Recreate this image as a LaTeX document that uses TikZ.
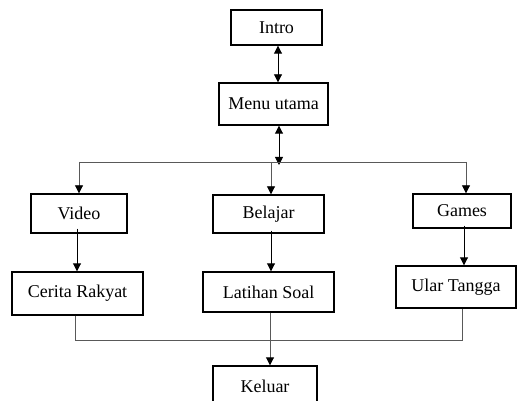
\documentclass[tikz,border=0pt]{standalone}
\usepackage{fontspec}
\setmainfont{Liberation Serif}
\usetikzlibrary{arrows.meta}
\begin{document}
\begin{tikzpicture}[x=1pt,y=-1pt,
  box/.style={draw=black,line width=1.4pt,inner sep=0pt,font=\fontsize{18}{20}\selectfont},
  tip/.style={-{Triangle[width=8pt,length=8pt,fill=black,color=black]}},
  dtip/.style={{Triangle[width=8pt,length=8pt,fill=black,color=black]}-{Triangle[width=8pt,length=8pt,fill=black,color=black]}},
  conn/.style={line width=0.9pt,draw=black!65},
  blk/.style={line width=0.9pt,draw=black}]
\clip (0,0) rectangle (517,401);
\fill[white] (0,0) rectangle (517,401);
\node[box,minimum width=91pt,minimum height=35pt] (intro) at (276.5,27.5) {Intro};
\node[box,minimum width=109pt,minimum height=42pt] (menu) at (273.5,104) {Menu utama};
\node[box,minimum width=96pt,minimum height=39pt] (video) at (79,213.5) {Video};
\node[box,minimum width=111pt,minimum height=38pt] (belajar) at (268.5,214) {Belajar};
\node[box,minimum width=98pt,minimum height=34pt] (games) at (462,211) {Games};
\node[box,minimum width=131pt,minimum height=43pt] (cerita) at (77.5,293.5) {Cerita Rakyat};
\node[box,minimum width=131pt,minimum height=40pt] (latihan) at (268.5,292) {Latihan Soal};
\node[box,minimum width=120pt,minimum height=42pt] (ular) at (456,287) {Ular Tangga};
\node[box,minimum width=104pt,minimum height=40pt] (keluar) at (265,386) {Keluar};
% top double arrows
\draw[blk,dtip] (intro.south -| 278,0) -- (menu.north -| 278,0);
\coordinate (split) at (279,162);
\draw[blk,dtip] (menu.south -| 279,0) -- ([yshift=-3pt]split);
% branch line
\coordinate (lv) at (79,162);
\coordinate (lg) at (466,162);
\draw[conn] (lv) -- (lg);
\draw[conn,tip] (lv) -- (video.north -| lv);
\draw[conn,tip] (271,162) coordinate (lb) -- (belajar.north -| lb);
\draw[conn,tip] (lg) -- (games.north -| lg);
% second level
\draw[blk,tip] ([yshift=5pt]video.south -| 77,0) coordinate (v2) -- (cerita.north -| v2);
\draw[blk,tip] ([yshift=3pt]belajar.south -| 271,0) coordinate (b2) -- (latihan.north -| b2);
\draw[blk,tip] ([yshift=3pt]games.south -| 464,0) coordinate (g2) -- (ular.north -| g2);
% bottom join
\coordinate (jc) at (75,340);
\coordinate (ju) at (462,340);
\draw[conn] (cerita.south -| jc) -- (jc) -- (ju) -- (ular.south -| ju);
\draw[conn,tip] (latihan.south -| 270,0) coordinate (l2) -- (keluar.north -| l2);
\end{tikzpicture}
\end{document}
